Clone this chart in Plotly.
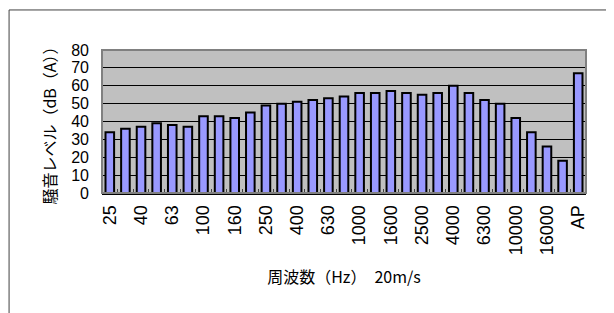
import plotly.graph_objects as go

categories = ["25", "31.5", "40", "50", "63", "80", "100", "125", "160", "200",
              "250", "315", "400", "500", "630", "800", "1000", "1250", "1600", "2000",
              "2500", "3150", "4000", "5000", "6300", "8000", "10000", "12500", "16000", "20000",
              "AP"]
levels = [34, 36, 37, 39, 38, 37, 43, 43, 42, 45,
          49, 50, 51, 52, 53, 54, 56, 56, 57, 56,
          55, 56, 60, 56, 52, 50, 42, 34, 26, 18,
          67]
y_ticks = [0, 10, 20, 30, 40, 50, 60, 70, 80]

xpos = list(range(len(categories)))
label_idx = xpos[::2]

fig = go.Figure()
fig.add_trace(go.Bar(
    x=xpos, y=levels, width=0.55,
    marker=dict(color="#9999FF", line=dict(color="#000000", width=2)),
    hoverinfo="x+y",
))

cjk_font = dict(family="Noto Sans CJK JP", size=16, color="#000000")

# page body has an 8px default margin; figure is sized to fit the 614x313 window
W, H = 606, 305
fig.update_layout(
    width=W, height=H,
    margin=dict(l=94, r=28, t=42, b=120),
    paper_bgcolor="#FFFFFF",
    plot_bgcolor="#C0C0C0",
    showlegend=False,
    xaxis=dict(
        range=[-0.5, len(categories) - 0.5],
        tickmode="array",
        tickvals=label_idx,
        ticktext=[categories[i] for i in label_idx],
        tickangle=-90,
        tickfont=dict(family="Arial", size=18, color="#000000"),
        ticks="",
        ticklabelstandoff=3,
        showgrid=False,
        zeroline=False,
        showline=True, linecolor="#000000", linewidth=2,
        minor=dict(tickmode="linear", tick0=0.5, dtick=1, ticks="inside",
                   ticklen=4, tickcolor="#404040", tickwidth=1, showgrid=False),
        title=dict(text="周波数（Hz）　20m/s", font=cjk_font, standoff=18),
        fixedrange=True,
    ),
    yaxis=dict(
        range=[0, 80],
        tickmode="array",
        tickvals=y_ticks,
        tickfont=dict(family="Arial", size=16, color="#000000"),
        ticks="",
        ticklabelstandoff=12,
        showgrid=True, gridcolor="#000000", gridwidth=1,
        zeroline=False,
        showline=False,
        title=dict(text="騒音レベル（dB（A））", font=cjk_font, standoff=10),
        fixedrange=True,
    ),
    shapes=[
        dict(type="rect", xref="paper", yref="paper", x0=0, x1=1, y0=0, y1=1,
             line=dict(color="#808080", width=2), fillcolor="rgba(0,0,0,0)", layer="above"),
        dict(type="rect", xref="paper", yref="paper", x0=-0.192, x1=1.045, y0=-0.95, y1=1.28,
             line=dict(color="#404040", width=1), fillcolor="rgba(0,0,0,0)"),
    ],
)

fig.write_html("out.html")
